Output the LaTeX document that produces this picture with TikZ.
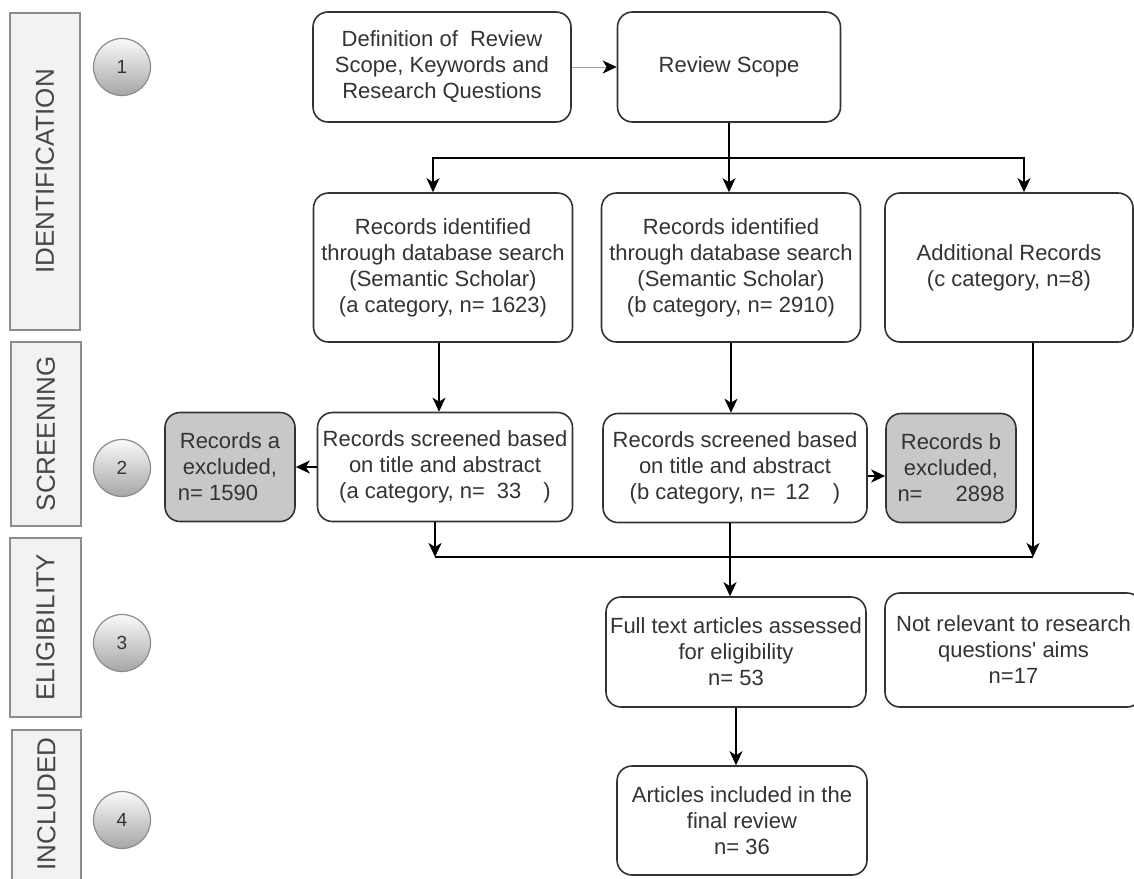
\documentclass[tikz,border=0pt]{standalone}
\usepackage{fontspec}
\setmainfont{Liberation Sans}[Ligatures=TeXOff]
\usetikzlibrary{arrows.meta,shadings}
\definecolor{txt}{HTML}{333333}
\definecolor{bord}{HTML}{333333}
\definecolor{excl}{HTML}{C8C8C8}
\definecolor{labfill}{HTML}{F2F2F2}
\definecolor{labbord}{HTML}{8C8C8C}
\definecolor{graylink}{HTML}{A0A0A0}
\begin{document}
\begin{tikzpicture}[x=1pt,y=-1pt,
  box/.style={draw=bord, line width=1.6pt, rounded corners=15pt, fill=white,
    align=center, text=txt, font=\fontsize{22}{26}\selectfont, inner sep=0pt},
  exbox/.style={box, fill=excl},
  stagebox/.style={draw=labbord, line width=1.5pt, fill=labfill},
  stagetext/.style={text=txt!90!white, font=\fontsize{26}{30}\selectfont, rotate=90, inner sep=0pt},
  stagenum/.style={circle, draw=labbord, line width=1.2pt, minimum size=57pt,
    top color=white!96!gray, bottom color=gray!70, text=txt,
    font=\fontsize{19}{21}\selectfont, inner sep=0pt},
  arr/.style={draw=black, line width=2pt, -{Stealth[length=14pt,width=13pt,inset=4pt]}},
  link/.style={draw=black, line width=2pt},
  glink/.style={draw=graylink, line width=1pt, -{Stealth[length=14pt,width=13pt,inset=4pt,black]}}
]
\useasboundingbox (0,0) rectangle (1134,878);
\clip (0,0) rectangle (1134,878);

% stage labels
\node[stagebox, stagetext, minimum width=317pt, minimum height=70pt] (sId) at (45,171.5) {IDENTIFICATION};
\node[stagebox, stagetext, minimum width=184pt, minimum height=70pt] (sSc) at (46,434) {SCREENING};
\node[stagebox, stagetext, minimum width=179pt, minimum height=71pt] (sEl) at (45.5,627.5) {ELIGIBILITY};
\node[stagebox, stagetext, minimum width=180pt, minimum height=69pt, anchor=east] (sInB) at (46.5,729) {};
\node[stagetext] (sIn) at (46.5,804) {INCLUDED};

% stage numbers
\node[stagenum] (n1) at (122,67) {1};
\node[stagenum] (n2) at (122,468) {2};
\node[stagenum] (n3) at (122,643) {3};
\node[stagenum] (n4) at (122,820) {4};

% boxes
\node[box, minimum width=258pt, minimum height=110pt] (def) at (442,67)
  {Definition of\ \ Review\\Scope, Keywords and\\Research Questions};
\node[box, minimum width=223pt, minimum height=110pt] (scope) at (729,67) {Review Scope};
\node[box, minimum width=259pt, minimum height=149pt] (a1) at (443,267.5)
  {Records identified\\through database search\\(Semantic Scholar)\\(a category, n= 1623)};
\node[box, minimum width=259pt, minimum height=149pt] (b1) at (731,267.5)
  {Records identified\\through database search\\(Semantic Scholar)\\(b category, n= 2910)};
\node[box, minimum width=248pt, minimum height=149pt] (c1) at (1009,267.5)
  {Additional Records\\(c category, n=8)};
\node[box, minimum width=255pt, minimum height=109pt] (sa) at (445,467)
  {Records screened based\\on title and abstract\\(a category, n=\hspace{12pt}33\hspace{22pt})};
\node[exbox, minimum width=130pt, minimum height=109pt] (ea) at (230,467)
  {Records a\\excluded,\\n= 1590\hspace*{24pt}};
\node[box, minimum width=264pt, minimum height=109pt] (sb) at (735,468)
  {Records screened based\\on title and abstract\\(b category, n=\hspace{10pt}12\hspace{23pt})};
\node[exbox, minimum width=130pt, minimum height=109pt] (eb) at (951,468)
  {Records b\\excluded,\\n=\hspace{33pt}2898};
\node[box, minimum width=260pt, minimum height=110pt] (ft) at (736,652)
  {Full text articles assessed\\for eligibility\\n= 53};
\node[box, minimum width=257pt, minimum height=114pt] (nr) at (1013.5,650)
  {Not relevant to research\\questions' aims\\n=17};
\node[box, minimum width=250pt, minimum height=109pt] (ar) at (742,820.5)
  {Articles included in the\\final review\\n= 36};

% connectors
\draw[glink] (def.east) -- (scope.west);
\coordinate (split) at (729,158);
\draw[arr] (scope.south) -- (scope.south |- b1.north);
\draw[arr] (split) -| ([xshift=-10pt]a1.north);
\draw[arr] (split) -| ([xshift=15pt]c1.north);
\draw[arr] ([xshift=-4pt]a1.south) -- ([xshift=-6pt]sa.north);
\draw[arr] (b1.south) -- (b1.south |- sb.north);
\draw[arr] (sa.west) -- (ea.east);
\draw[arr] ([yshift=-8pt]sb.east) -- ([yshift=-8pt]eb.west);
\coordinate (mL) at (435,557);
\coordinate (mR) at (1033,557);
\draw[arr] ([xshift=-10pt]sa.south) -- (mL);
\draw[link] (mL) -- (mR);
\draw[arr] ([xshift=24pt]c1.south) -- (mR);
\draw[arr] ([xshift=-5pt]sb.south) -- ([xshift=-6pt]ft.north);
\draw[arr] (ft.south) -- (ft.south |- ar.north);
\end{tikzpicture}
\end{document}
